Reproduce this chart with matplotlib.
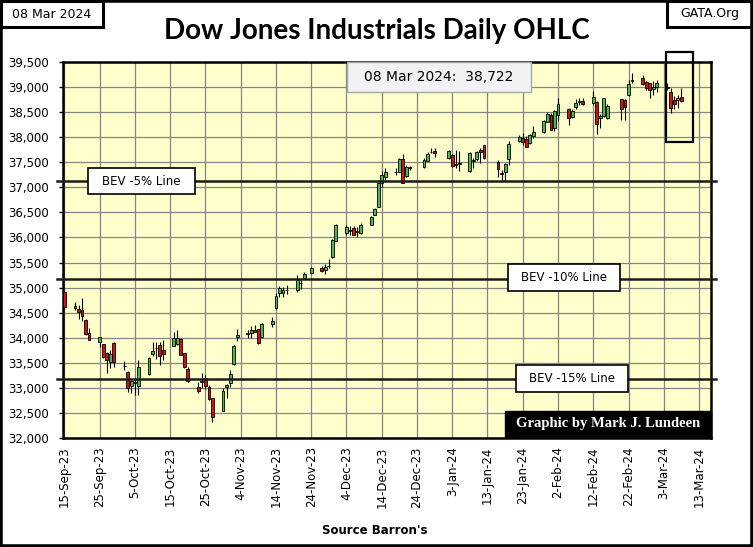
import numpy as np
import pandas as pd
import matplotlib
matplotlib.use('Agg')
import matplotlib.pyplot as plt
import matplotlib.dates as mdates
from matplotlib.patches import Rectangle

# daily OHLC
dates = ['2023-09-15', '2023-09-18', '2023-09-19', '2023-09-20', '2023-09-21', '2023-09-22',
         '2023-09-25', '2023-09-26', '2023-09-27', '2023-09-28', '2023-09-29',
         '2023-10-02', '2023-10-03', '2023-10-04', '2023-10-05', '2023-10-06',
         '2023-10-09', '2023-10-10', '2023-10-11', '2023-10-12', '2023-10-13',
         '2023-10-16', '2023-10-17', '2023-10-18', '2023-10-19', '2023-10-20',
         '2023-10-23', '2023-10-24', '2023-10-25', '2023-10-26', '2023-10-27',
         '2023-10-30', '2023-10-31', '2023-11-01', '2023-11-02', '2023-11-03',
         '2023-11-06', '2023-11-07', '2023-11-08', '2023-11-09', '2023-11-10',
         '2023-11-13', '2023-11-14', '2023-11-15', '2023-11-16', '2023-11-17',
         '2023-11-20', '2023-11-21', '2023-11-22', '2023-11-24',
         '2023-11-27', '2023-11-28', '2023-11-29', '2023-11-30', '2023-12-01',
         '2023-12-04', '2023-12-05', '2023-12-06', '2023-12-07', '2023-12-08',
         '2023-12-11', '2023-12-12', '2023-12-13', '2023-12-14', '2023-12-15',
         '2023-12-18', '2023-12-19', '2023-12-20', '2023-12-21', '2023-12-22',
         '2023-12-26', '2023-12-27', '2023-12-28', '2023-12-29',
         '2024-01-02', '2024-01-03', '2024-01-04', '2024-01-05',
         '2024-01-08', '2024-01-09', '2024-01-10', '2024-01-11', '2024-01-12',
         '2024-01-16', '2024-01-17', '2024-01-18', '2024-01-19',
         '2024-01-22', '2024-01-23', '2024-01-24', '2024-01-25', '2024-01-26',
         '2024-01-29', '2024-01-30', '2024-01-31', '2024-02-01', '2024-02-02',
         '2024-02-05', '2024-02-06', '2024-02-07', '2024-02-08', '2024-02-09',
         '2024-02-12', '2024-02-13', '2024-02-14', '2024-02-15', '2024-02-16',
         '2024-02-20', '2024-02-21', '2024-02-22', '2024-02-23',
         '2024-02-26', '2024-02-27', '2024-02-28', '2024-02-29', '2024-03-01',
         '2024-03-04', '2024-03-05', '2024-03-06', '2024-03-07', '2024-03-08']

opens = [34907, 34600, 34580, 34560, 34354, 34100,
         33910, 33870, 33690, 33520, 33900,
         33440, 33320, 33040, 33100, 33040,
         33270, 33676, 33790, 33850, 33750,
         33840, 33880, 33968, 33690, 33370,
         33010, 33110, 33200, 33024, 32790,
         32545, 33020, 33090, 33470, 34007,
         34080, 34087, 34150, 34167, 34021,
         34274, 34600, 34900, 34885, 34960,
         34952, 35100, 35185, 35298,
         35397, 35351, 35440, 35604, 35936,
         36096, 36150, 36195, 36120, 36096,
         36249, 36448, 36614, 37080, 37199,
         37300, 37312, 37558, 37226, 37400,
         37412, 37532, 37700, 37725,
         37578, 37645, 37470, 37480,
         37332, 37540, 37558, 37745, 37844,
         37499, 37293, 37312, 37558,
         37931, 37977, 37957, 37878, 38024,
         38110, 38310, 38443, 38177, 38443,
         38556, 38396, 38609, 38700, 38729,
         38676, 38709, 38377, 38420, 38380,
         38756, 38740, 38842, 39120,
         39174, 39108, 39074, 38960, 39008,
         39008, 38908, 38742, 38740, 38808]

highs = [34920, 34720, 34650, 34790, 34380, 34200,
         34020, 33880, 33720, 33750, 33920,
         33530, 33330, 33150, 33200, 33560,
         33620, 33920, 33910, 33920, 33960,
         34120, 34150, 34000, 33700, 33420,
         33120, 33290, 33250, 33060, 32800,
         33000, 33080, 33350, 33860, 34167,
         34160, 34230, 34250, 34180, 34300,
         34410, 34900, 35040, 35020, 35050,
         35250, 35150, 35320, 35420,
         35430, 35470, 35570, 35970, 36270,
         36250, 36230, 36220, 36210, 36290,
         36420, 36590, 37110, 37330, 37380,
         37390, 37580, 37665, 37440, 37430,
         37580, 37700, 37780, 37790,
         37750, 37660, 37740, 37720,
         37710, 37580, 37730, 37780, 37850,
         37550, 37340, 37480, 37930,
         38050, 38080, 38030, 38070, 38220,
         38350, 38500, 38480, 38550, 38790,
         38580, 38560, 38760, 38780, 38780,
         38930, 38720, 38460, 38790, 38660,
         38770, 38760, 39140, 39287,
         39250, 39130, 39090, 39120, 39140,
         39080, 38990, 38820, 38840, 38988]

lows = [34580, 34560, 34380, 34330, 34060, 33950,
        33810, 33590, 33300, 33390, 33410,
        33355, 32920, 32890, 32860, 32850,
        33260, 33640, 33570, 33460, 33560,
        33840, 33850, 33660, 33400, 33120,
        32900, 32990, 32980, 32750, 32327,
        32540, 32790, 33010, 33460, 33940,
        34000, 34000, 34120, 33880, 34000,
        34210, 34580, 34820, 34810, 34870,
        34920, 34980, 35180, 35290,
        35310, 35280, 35400, 35600, 35920,
        36050, 36050, 36040, 36010, 36060,
        36240, 36440, 36600, 37000, 37150,
        37250, 37300, 37080, 37200, 37340,
        37380, 37520, 37680, 37600,
        37560, 37400, 37380, 37320,
        37300, 37380, 37520, 37480, 37560,
        37210, 37133, 37133, 37450,
        37900, 37840, 37800, 37860, 37980,
        38080, 38300, 38140, 38130, 38330,
        38240, 38380, 38560, 38640, 38640,
        38640, 38064, 38180, 38400, 38370,
        38340, 38350, 38820, 39090,
        39040, 38950, 38775, 38840, 38910,
        38940, 38476, 38560, 38580, 38700]

closes = [34618, 34624, 34517, 34441, 34070, 33964,
          34007, 33618, 33550, 33667, 33508,
          33433, 33002, 33129, 33120, 33408,
          33605, 33740, 33805, 33631, 33670,
          33985, 33998, 33665, 33415, 33127,
          32937, 33141, 33036, 32784, 32418,
          32929, 33053, 33275, 33840, 34061,
          34096, 34153, 34112, 33892, 34283,
          34338, 34828, 34991, 34946, 34947,
          35151, 35088, 35273, 35390,
          35333, 35417, 35430, 35951, 36246,
          36204, 36124, 36054, 36117, 36248,
          36405, 36577, 37090, 37248, 37306,
          37306, 37558, 37083, 37405, 37386,
          37545, 37657, 37710, 37690,
          37715, 37431, 37440, 37466,
          37683, 37525, 37696, 37711, 37593,
          37361, 37267, 37469, 37864,
          38001, 37906, 37806, 38050, 38109,
          38333, 38467, 38150, 38519, 38654,
          38380, 38521, 38677, 38726, 38671,
          38797, 38273, 38424, 38773, 38628,
          38564, 38612, 39069, 39131,
          39069, 38972, 38949, 38996, 39087,
          38990, 38585, 38661, 38791, 38722]

bev_levels = [37130, 35180, 33170]
bev_labels = ['BEV -5% Line', 'BEV -10% Line', 'BEV -15% Line']
tick_dates = pd.date_range('2023-09-15', '2024-03-13', freq='10D')
last_label = '08 Mar 2024:  38,722'

W, H = 753, 547
fig = plt.figure(figsize=(W / 100, H / 100), dpi=100)
fig.patch.set_facecolor('white')

def px(x, y):
    return x / W, 1 - y / H

def fig_box(x0, y0, x1, y1, text, fc='white', ec='black', lw=1.2, **kw):
    fig.patches.append(Rectangle(px(x0, y1), (x1 - x0) / W, (y1 - y0) / H,
                                 transform=fig.transFigure, fc=fc, ec=ec, lw=lw, zorder=5))
    fig.text((x0 + x1) / 2 / W, 1 - (y0 + y1) / 2 / H, text, ha='center', va='center',
             zorder=6, **kw)

ax = fig.add_axes([63 / W, 1 - 438 / H, (711 - 63) / W, (438 - 62) / H])
ax.set_facecolor('#FFFFCC')

x = mdates.date2num(pd.to_datetime(dates))
o = np.array(opens, float)
h = np.array(highs, float)
l = np.array(lows, float)
c = np.array(closes, float)
up = c >= o
colors = np.where(up, '#50B450', '#CC1414')

ax.vlines(x, l, h, color='black', lw=0.8, zorder=3)
ax.bar(x, c - o, bottom=o, width=0.8, color=colors, edgecolor='black', lw=0.6, zorder=4)

x0 = mdates.date2num(pd.Timestamp('2023-09-15'))
ax.set_xlim(x0 - 0.4, x0 + 183.4)
ax.set_ylim(32000, 39500)

tx = mdates.date2num(tick_dates)
ax.set_xticks(tx)
ax.set_xticklabels([f"{d.day}-{d:%b-%y}" for d in tick_dates], rotation=90,
                   fontsize=8.5, family='DejaVu Sans')
yt = np.arange(32000, 39501, 500)
ax.set_yticks(yt)
ax.set_yticklabels([f"{v:,}" for v in yt], fontsize=8.5, family='DejaVu Sans')
ax.tick_params(axis='x', length=0, pad=6)
ax.tick_params(axis='y', length=3, width=1, pad=7)
ax.grid(True, color='#858585', lw=0.9, zorder=0)
ax.set_axisbelow(True)
for s in ax.spines.values():
    s.set_linewidth(1.8)

for lev in bev_levels:
    ax.plot([-0.01, 1.008], [lev, lev], transform=ax.get_yaxis_transform(),
            color='#1a1a1a', lw=1.8, clip_on=False, zorder=5)

# boxes and labels
fig_box(88, 168, 195, 194, bev_labels[0], fontsize=8.5)
fig_box(508, 264, 620, 291, bev_labels[1], fontsize=8.5)
fig_box(516, 365, 628, 392, bev_labels[2], fontsize=8.5)
fig_box(347, 62, 531, 92, last_label, fc='#F2F2F2', ec='#A6A6A6', lw=1.0, fontsize=10)
fig_box(505, 411, 711, 437, 'Graphic by Mark J. Lundeen', fc='black', lw=1.0,
        color='white', family='Liberation Serif', fontweight='bold', fontsize=10.5)
fig_box(1, 1, 103, 27, '08 Mar 2024', lw=2.2, fontsize=9)
fig_box(667, 1, 752, 27, 'GATA.Org', lw=2.2, fontsize=9)

# highlight box around last week
fig.patches.append(Rectangle(px(666, 142), 27 / W, 90 / H, transform=fig.transFigure,
                             fill=False, ec='black', lw=1.6, zorder=7))

fig.text(377 / W, 1 - 31 / H, 'Dow Jones Industrials Daily OHLC', ha='center', va='center',
         fontsize=20, fontweight='bold', family='Lato')
fig.text(375 / W, 1 - 531 / H, "Source Barron's", ha='center', va='center',
         fontsize=8.5, fontweight='bold', family='DejaVu Sans')

fig.patches.append(Rectangle((0, 0), 1, 1, transform=fig.transFigure, fill=False,
                             ec='black', lw=4, zorder=10))

fig.savefig('out.png', dpi=100)
